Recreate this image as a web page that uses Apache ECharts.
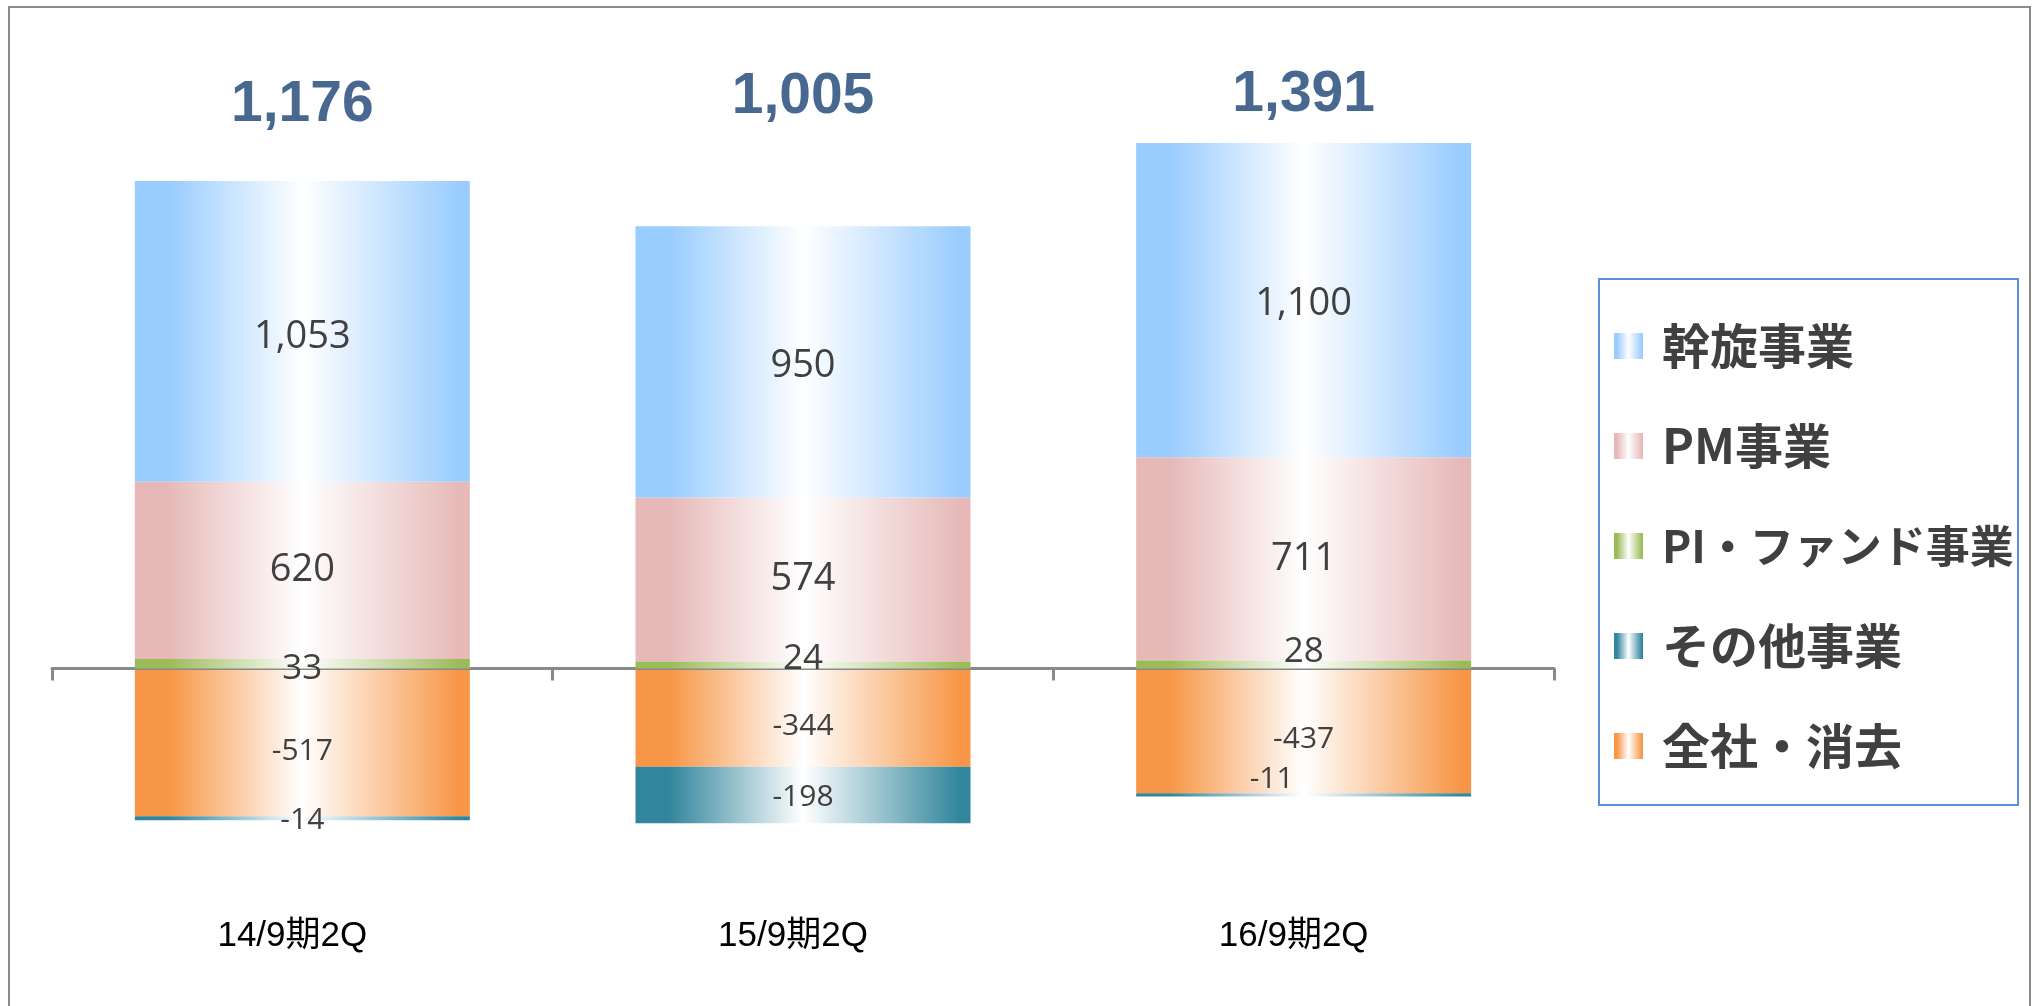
<!DOCTYPE html>
<html>
<head>
<meta charset="utf-8">
<script src="https://cdn.jsdelivr.net/npm/echarts@6/dist/echarts.min.js"></script>
<style>
html,body{margin:0;padding:0;background:#fff;}
#chart{width:2034px;height:1006px;}
</style>
</head>
<body>
<div id="chart"></div>
<script>
// ---- data ----
var categories = ['14/9期2Q', '15/9期2Q', '16/9期2Q'];
var seriesNames = ['幹旋事業', 'PM事業', 'PI・ファンド事業', 'その他事業', '全社・消去'];
var assen   = [1053, 950, 1100];   // 幹旋事業
var pm      = [620, 574, 711];     // PM事業
var piFund  = [33, 24, 28];        // PI・ファンド事業
var other   = [-14, -198, -11];    // その他事業
var corp    = [-517, -344, -437];  // 全社・消去
var totals  = [1176, 1005, 1391];  // 合計

var yMin = -800, yMax = 2000;

function fmt(v){ return Number(v).toLocaleString('en-US'); }
function grad(c){
  return new echarts.graphic.LinearGradient(0,0,1,0,[
    {offset:0,color:c},{offset:0.1,color:c},{offset:0.5,color:'#FFFFFF'},{offset:0.97,color:c},{offset:1,color:c}
  ]);
}
var colors = {
  assen:'#99CCFF', pm:'#E6B9B8', pi:'#9BBB59', other:'#31859C', corp:'#F79646'
};
var labelFont = "'Open Sans', 'Noto Sans', sans-serif";

function mk(vals, offs){
  return vals.map(function(v,i){
    var d = {value:v};
    if (offs && offs[i]) d.label = {offset: offs[i]};
    return d;
  });
}
function barSeries(name, vals, color, fontSize, offs, z){
  return {
    name:name, type:'bar', stack:'total', barWidth:335, z:z||2,
    itemStyle:{color:grad(color)},
    label:{show:true, position:'inside', color:'#404040', fontSize:fontSize,
           fontFamily:labelFont, formatter:function(p){return fmt(p.value);}},
    data:mk(vals, offs)
  };
}

var chart = echarts.init(document.getElementById('chart'));
chart.setOption({
  animation:false,
  backgroundColor:'#ffffff',
  grid:{left:52, right:480, top:97, height:800, containLabel:false, outerBoundsMode:'none'},
  legend:{
    orient:'vertical', left:1614, top:322, padding:0,
    itemWidth:29, itemHeight:26, itemGap:52, icon:'rect',
    data:[
      {name:seriesNames[0]},
      {name:seriesNames[1]},
      {name:seriesNames[2], textStyle:{fontSize:44}},
      {name:seriesNames[3]},
      {name:seriesNames[4]}
    ],
    textStyle:{fontSize:48, lineHeight:48, fontWeight:'bold', color:'#404040',
               fontFamily:"'Noto Sans CJK JP', sans-serif", padding:[0,0,0,14]}
  },
  xAxis:[{
    type:'category', data:categories, z:3,
    axisLine:{onZero:true, lineStyle:{color:'#898989', width:3}},
    axisTick:{show:true, length:12, interval:0, lineStyle:{color:'#898989', width:3}},
    axisLabel:{show:false}
  },{
    type:'category', data:categories, position:'bottom',
    axisLine:{show:false, onZero:false}, axisTick:{show:false},
    axisLabel:{show:true, interval:0, margin:22, fontSize:35, color:'#000000', padding:[0,20,0,0],
               fontFamily:"'Liberation Sans', Arial, 'Noto Sans CJK JP', sans-serif"}
  }],
  yAxis:{type:'value', min:yMin, max:yMax, interval:400, show:false, splitLine:{show:false}},
  series:[
    barSeries(seriesNames[2], piFund, colors.pi, 35, [[0,5],[0,-6],[0,-12]], 4),
    barSeries(seriesNames[4], corp, colors.corp, 30, [[0,9],[0,9],[0,9]]),
    barSeries(seriesNames[1], pm, colors.pm, 38),
    barSeries(seriesNames[3], other, colors.other, 30, [[0,2],[0,2],[-32,-15]]),
    barSeries(seriesNames[0], assen, colors.assen, 38, [[0,6],[0,4],[0,4]]),
    {
      name:'合計', type:'scatter', symbol:'circle', symbolSize:1, z:5,
      itemStyle:{color:'rgba(0,0,0,0)'},
      label:{show:true, position:'inside', color:'#1A4274', fontWeight:'bold', fontSize:57,
             fontFamily:"'Liberation Sans', Arial, sans-serif",
             formatter:function(p){return fmt(totals[p.dataIndex]);}},
      data:totals.map(function(t,i){
        return {value:yMax, label:{offset:[[0,8],[0,0],[0,-2]][i]}};
      })
    }
  ],
  graphic:[
    {type:'rect', silent:true, shape:{x:9, y:7, width:2021, height:1030},
     style:{fill:'none', stroke:'#8C8C8C', lineWidth:2}},
    {type:'rect', silent:true, shape:{x:1599, y:279, width:419, height:526},
     style:{fill:'none', stroke:'#5B8FD6', lineWidth:2}}
  ]
});
</script>
</body>
</html>
